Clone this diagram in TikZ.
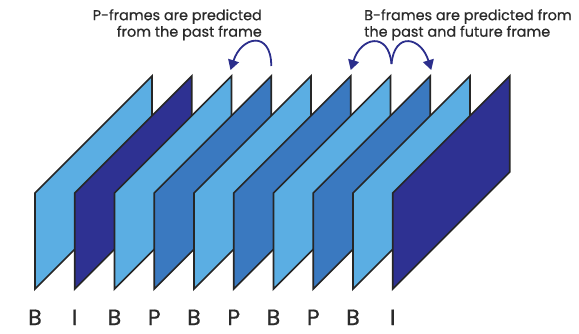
\documentclass[tikz,border=0pt]{standalone}
\usepackage{fontspec}
\setmainfont{Poppins}
\newfontfamily\capfont[FakeBold=0.6]{Poppins}
\usetikzlibrary{arrows.meta,calc}
\definecolor{lightf}{HTML}{5BAEE3}
\definecolor{midf}{HTML}{3A79C0}
\definecolor{darkf}{HTML}{2E3192}
\definecolor{arrowc}{HTML}{2B2E8C}
\definecolor{txt}{HTML}{2A2A2A}
\begin{document}
\begin{tikzpicture}[x=1pt,y=-1pt,
  frame/.style={draw=black!85,line width=1.7pt,line join=miter},
  lbl/.style={text=txt,font=\capfont\fontsize{22}{24}\selectfont,inner sep=0pt},
  note/.style={text=txt,font=\capfont\fontsize{14.4}{16.5}\selectfont,inner sep=0pt},
  pred/.style={draw=arrowc,line width=1.8pt,-{Triangle[length=10pt,width=11pt]}}]
\useasboundingbox[fill=white] (0,0) rectangle (579,333);
% stack of frames, each one drawn over the previous
\foreach \c/\lab [count=\i from 0] in {lightf/B,darkf/I,lightf/B,midf/P,lightf/B,midf/P,lightf/B,midf/P,lightf/B,darkf/I} {
  \pgfmathsetmacro\xl{35+39.75*\i}
  \draw[frame,fill=\c] (\xl,289) -- (\xl,193) -- ++(117,-117) -- ++(0,96) -- cycle;
  \coordinate (t\i) at (\xl+117,76);
  \node[lbl,anchor=base] (l\i) at (\xl,325) {\lab};
}
% captions
\node[note,anchor=north east,align=right] (pcap) at (262,9) {P-frames are predicted\\from the past frame};
\node[note,anchor=north west,align=left] (bcap) at (364,9) {B-frames are predicted from\\the past and future frame};
% prediction arrows
\coordinate (ps) at ($(t3)+(0,-10)$);
\coordinate (pe) at ($(t2)+(-1,-6)$);
\draw[pred] (ps) .. controls +(0,-36) and +(11,-34) .. (pe);
\coordinate (bs) at ($(t6)+(1,-12)$);
\coordinate (bl) at ($(t5)+(0,-6)$);
\coordinate (br) at ($(t7)+(1,-6)$);
\draw[pred] (bs) .. controls +(-3,-33) and +(10,-33) .. (bl);
\draw[pred] (bs) .. controls +(3,-33) and +(-10,-33) .. (br);
\end{tikzpicture}
\end{document}
